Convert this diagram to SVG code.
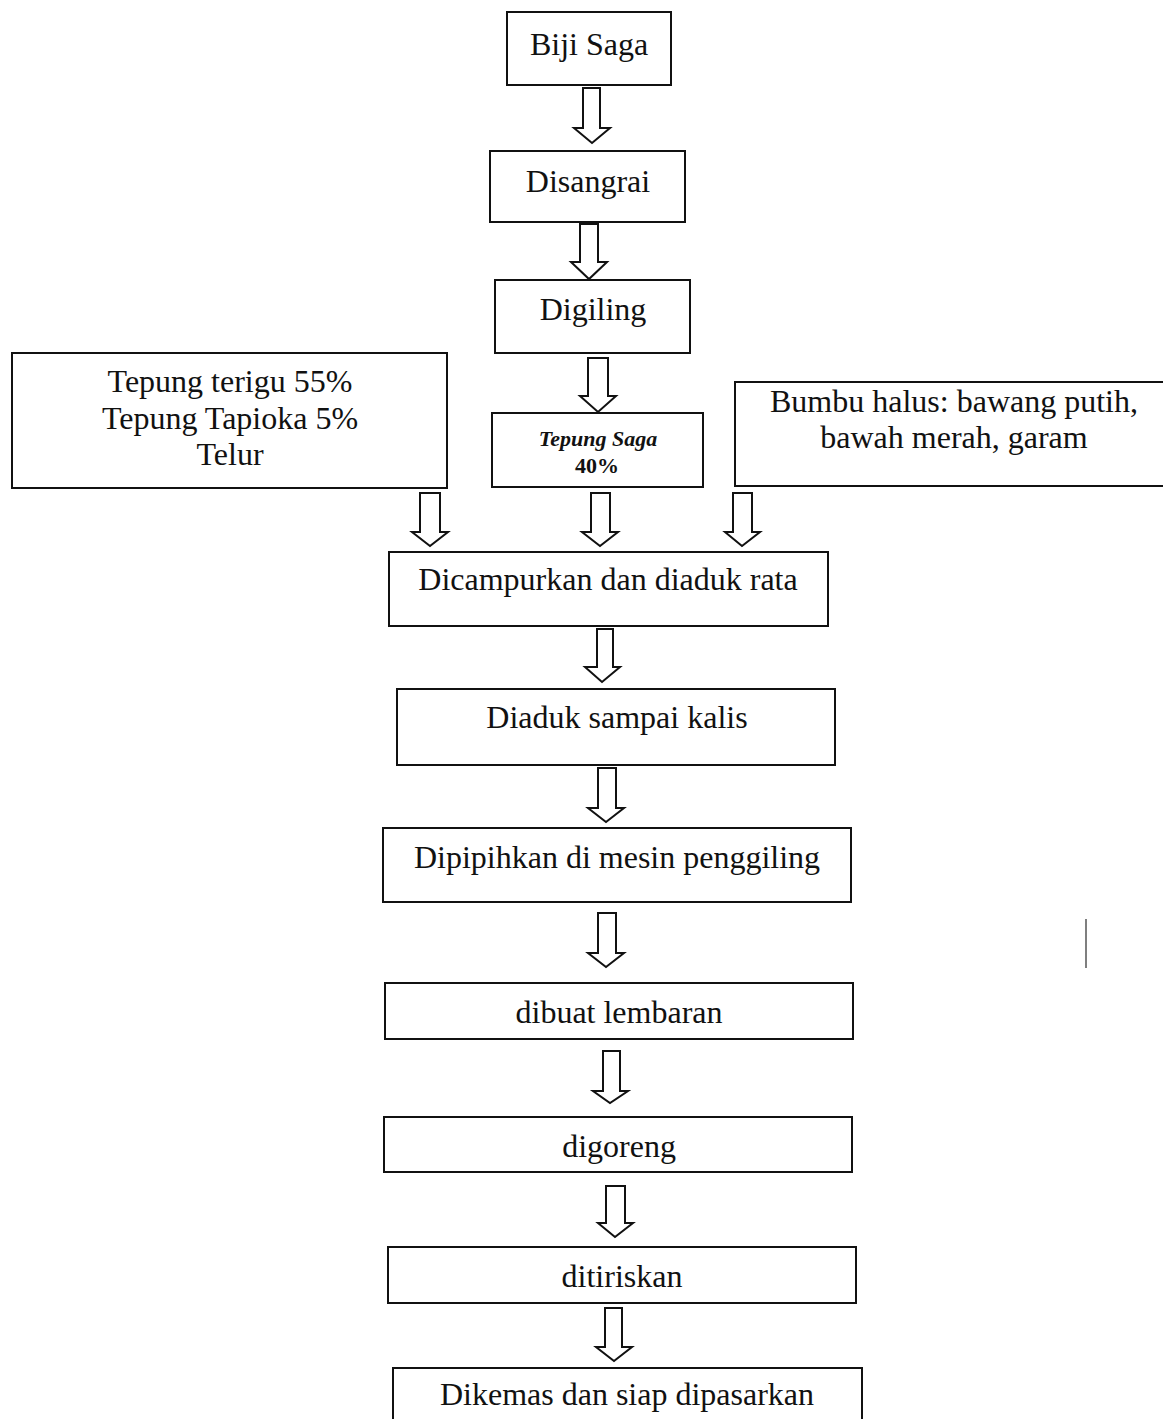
<svg xmlns="http://www.w3.org/2000/svg" width="1163" height="1419" viewBox="0 0 1163 1419">
<style>
.box{fill:#fff;stroke:#111;stroke-width:2}
.arr{fill:#fff;stroke:#111;stroke-width:2;stroke-linejoin:miter}
.t{font-family:"Liberation Serif","Times New Roman",serif;font-size:32px;fill:#111;text-anchor:middle}
.s{font-family:"Liberation Serif","Times New Roman",serif;font-size:22px;fill:#111;text-anchor:middle}
</style>
<rect width="1163" height="1419" fill="#fff"/>
<g id="connectors">
<path class="arr" d="M583,88 L600,88 L600,128 L610,128 L592,143 L574,128 L583,128 Z"/>
<path class="arr" d="M580,224 L598,224 L598,262 L607,262 L589,279 L571,262 L580,262 Z"/>
<path class="arr" d="M588,358 L608,358 L608,396 L616,396 L598,412 L580,396 L588,396 Z"/>
<path class="arr" d="M420,493 L440,493 L440,532 L448,532 L430,546 L412,532 L420,532 Z"/>
<path class="arr" d="M591,493 L610,493 L610,532 L618,532 L600,546 L582,532 L591,532 Z"/>
<path class="arr" d="M733,493 L752,493 L752,532 L760,532 L742,546 L725,532 L733,532 Z"/>
<path class="arr" d="M597,629 L613,629 L613,667 L620,667 L602,682 L585,667 L597,667 Z"/>
<path class="arr" d="M598,768 L616,768 L616,808 L624,808 L606,822 L588,808 L598,808 Z"/>
<path class="arr" d="M598,913 L616,913 L616,953 L624,953 L606,967 L588,953 L598,953 Z"/>
<path class="arr" d="M603,1051 L620,1051 L620,1091 L628,1091 L610,1103 L593,1091 L603,1091 Z"/>
<path class="arr" d="M606,1186 L625,1186 L625,1223 L633,1223 L615,1237 L598,1223 L606,1223 Z"/>
<path class="arr" d="M605,1308 L622,1308 L622,1347 L632,1347 L614,1361 L596,1347 L605,1347 Z"/>
<line x1="1086" y1="919" x2="1086" y2="968" stroke="#555" stroke-width="1.5"/>
</g>
<g id="n-biji"><rect class="box" x="507" y="12" width="164" height="73"/><text class="t" x="589" y="55">Biji Saga</text></g>
<g id="n-sangrai"><rect class="box" x="490" y="151" width="195" height="71"/><text class="t" x="588" y="192">Disangrai</text></g>
<g id="n-giling"><rect class="box" x="495" y="280" width="195" height="73"/><text class="t" x="593" y="320">Digiling</text></g>
<g id="n-terigu"><rect class="box" x="12" y="353" width="435" height="135"/>
<text class="t" x="230" y="392">Tepung terigu 55%</text>
<text class="t" x="230" y="429">Tepung Tapioka 5%</text>
<text class="t" x="230" y="465">Telur</text></g>
<g id="n-tepungsaga"><rect class="box" x="492" y="413" width="211" height="74"/>
<text class="s" x="598" y="446" font-style="italic" font-weight="bold">Tepung Saga</text>
<text class="s" x="597" y="473" font-weight="bold">40%</text></g>
<g id="n-bumbu"><rect class="box" x="735" y="382" width="440" height="104"/>
<text class="t" x="954" y="412">Bumbu halus: bawang putih,</text>
<text class="t" x="954" y="448">bawah merah, garam</text></g>
<g id="n-campur"><rect class="box" x="389" y="552" width="439" height="74"/><text class="t" x="608" y="590">Dicampurkan dan diaduk rata</text></g>
<g id="n-kalis"><rect class="box" x="397" y="689" width="438" height="76"/><text class="t" x="617" y="728">Diaduk sampai kalis</text></g>
<g id="n-pipih"><rect class="box" x="383" y="828" width="468" height="74"/><text class="t" x="617" y="868">Dipipihkan di mesin penggiling</text></g>
<g id="n-lembar"><rect class="box" x="385" y="983" width="468" height="56"/><text class="t" x="619" y="1023">dibuat lembaran</text></g>
<g id="n-goreng"><rect class="box" x="384" y="1117" width="468" height="55"/><text class="t" x="619" y="1157">digoreng</text></g>
<g id="n-tiris"><rect class="box" x="388" y="1247" width="468" height="56"/><text class="t" x="622" y="1287">ditiriskan</text></g>
<g id="n-kemas"><rect class="box" x="393" y="1368" width="469" height="60"/><text class="t" x="627" y="1405">Dikemas dan siap dipasarkan</text></g>
</svg>
